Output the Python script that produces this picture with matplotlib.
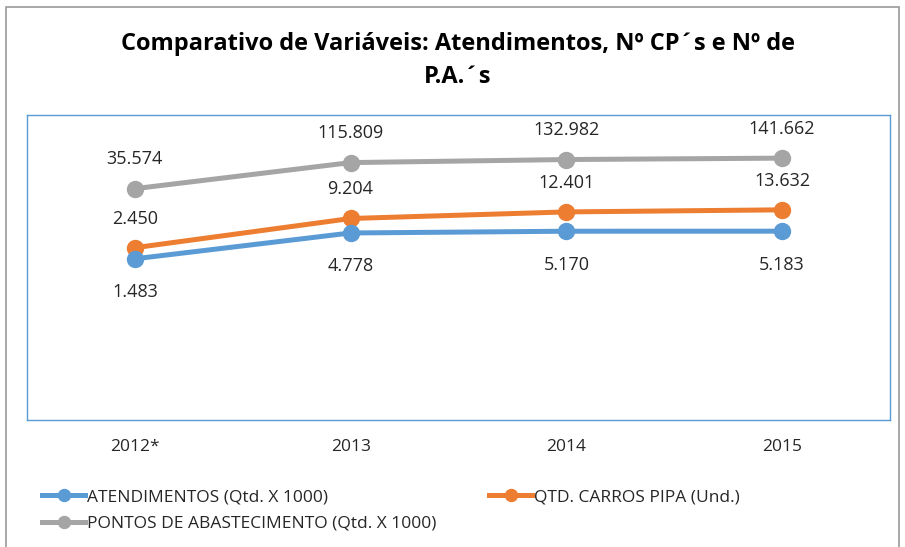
import numpy as np
import matplotlib
matplotlib.use('Agg')
import matplotlib.pyplot as plt
from matplotlib.patches import Rectangle

plt.rcParams['font.family'] = ['Open Sans', 'DejaVu Sans']

years = ['2012*', '2013', '2014', '2015']
atendimentos = [1483, 4778, 5170, 5183]
carros_pipa = [2450, 9204, 12401, 13632]
pontos = [35574, 115809, 132982, 141662]

series_names = ['ATENDIMENTOS (Qtd. X 1000)', 'QTD. CARROS PIPA (Und.)',
                'PONTOS DE ABASTECIMENTO (Qtd. X 1000)']
colors = ['#5B9BD5', '#ED7D31', '#A5A5A5']

W, H = 905, 547
fig = plt.figure(figsize=(W / 100, H / 100), dpi=100)

# outer chart frame
fig.patches.append(Rectangle((6 / W, -0.02), 893 / W, (H - 7) / H + 0.02,
                             transform=fig.transFigure, fill=False,
                             edgecolor='#9a9a9a', linewidth=1.2))

ax = fig.add_axes([27 / W, (H - 420) / H, 863 / W, 305 / H])
x = np.arange(len(years))

lines = []
# draw gray first so orange/blue sit on top
for vals, col, z in [(pontos, colors[2], 2), (carros_pipa, colors[1], 3), (atendimentos, colors[0], 3)]:
    ln, = ax.plot(x, vals, color=col, lw=3.6, marker='o', ms=11.5, zorder=z)
    lines.append(ln)
ln_p, ln_c, ln_a = lines

def fmt(v):
    return f'{v:,}'.replace(',', '.')

for i in x:
    ax.annotate(fmt(pontos[i]), (i, pontos[i]), xytext=(0, 21), textcoords='offset points',
                ha='center', va='center', fontsize=13, color='#262626')
    ax.annotate(fmt(carros_pipa[i]), (i, carros_pipa[i]), xytext=(0, 21), textcoords='offset points',
                ha='center', va='center', fontsize=13, color='#262626')
    ax.annotate(fmt(atendimentos[i]), (i, atendimentos[i]), xytext=(0, -24), textcoords='offset points',
                ha='center', va='center', fontsize=13, color='#262626')

ax.set_yscale('log')
ax.set_ylim(1, 1e6)
ax.set_xlim(-0.5, len(years) - 0.5)
ax.set_yticks([])
ax.minorticks_off()
ax.set_xticks(x)
ax.set_xticklabels(years, fontsize=12.5, color='#262626')
ax.tick_params(axis='x', length=0, pad=14)
for s in ax.spines.values():
    s.set_color('#5B9BD5')
    s.set_linewidth(1)

fig.text(0.5 + 5 / W, 1 - 32 / H, 'Comparativo de Variáveis: Atendimentos, Nº CP´s e Nº de\nP.A.´s',
         ha='center', va='top', fontsize=17, fontweight='bold', linespacing=1.5,
         transform=fig.transFigure)

fig.legend([ln_a, ln_p, ln_c], [series_names[0], series_names[2], series_names[1]],
           ncol=2, loc='upper left', bbox_to_anchor=(42 / W, 1 - 489 / H),
           frameon=False, fontsize=12.5, labelcolor='#262626',
           handlelength=2.5, handletextpad=0.12,
           columnspacing=3.0, labelspacing=0.6, borderaxespad=0, borderpad=0,
           markerscale=0.75)

fig.savefig('out.png', dpi=100)
